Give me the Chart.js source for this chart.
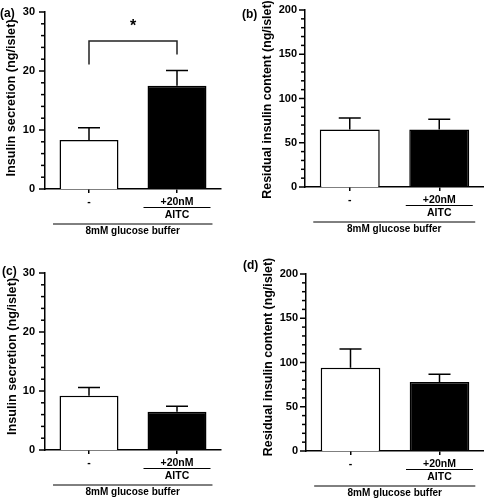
<!DOCTYPE html>
<html>
<head>
<meta charset="utf-8">
<script src="https://cdn.jsdelivr.net/npm/chart.js@4/dist/chart.umd.min.js"></script>
<style>
html,body{margin:0;padding:0;background:#fff;}
#wrap{position:relative;width:484px;height:500px;overflow:hidden;}
.pan{position:absolute;width:242px;height:250px;}
</style>
</head>
<body>
<div id="wrap">
  <div class="pan" style="left:0;top:0"><canvas id="ca" width="242" height="250"></canvas></div>
  <div class="pan" style="left:242px;top:0"><canvas id="cb" width="242" height="250"></canvas></div>
  <div class="pan" style="left:0;top:250px"><canvas id="cc" width="242" height="250"></canvas></div>
  <div class="pan" style="left:242px;top:250px"><canvas id="cd" width="242" height="250"></canvas></div>
</div>
<script>
// ---- data ----
const categories = ['-', '+20nM'];
const treatmentSub = ['', 'AITC'];
const groupLabel = '8mM glucose buffer';
const barColors = ['#ffffff', '#000000'];

const secretionA = [8.3, 17.5];
const secretionAErr = [10.4, 20.1];
const contentB = [65, 65];
const contentBErr = [78, 76.5];
const secretionC = [9.2, 6.5];
const secretionCErr = [10.6, 7.4];
const contentD = [94, 78];
const contentDErr = [115.3, 86.6];

const secretionTitle = 'Insulin secretion (ng/islet)';
const contentTitle = 'Residual insulin content (ng/islet)';
const secretionMax = 30, secretionMajor = 10, secretionMinor = 2;
const contentMax = 200, contentMajor = 50, contentMinor = 10;

// significance bracket for panel (a), in data units
const sigA = {from: 0, to: 1, top: 25.1, leftEnd: 21.1, rightEnd: 22.8, mark: '*', markAt: 28};

const FONT = '"Liberation Sans", Arial, Helvetica, sans-serif';

function makePanel(id, cfg) {
  const ctxEl = document.getElementById(id);
  const panelPlugin = {
    id: 'panelDecor',
    afterDatasetsDraw(chart) {
      const ctx = chart.ctx;
      const ys = chart.scales.y;
      const meta = chart.getDatasetMeta(0);
      ctx.save();
      ctx.strokeStyle = '#000';
      ctx.lineWidth = 1.5;
      cfg.err.forEach((e, i) => {
        const x = meta.data[i].x;
        const y0 = ys.getPixelForValue(cfg.values[i]);
        const y1 = ys.getPixelForValue(e);
        ctx.beginPath();
        ctx.moveTo(x, y0); ctx.lineTo(x, y1);
        ctx.moveTo(x - 11, y1); ctx.lineTo(x + 11, y1);
        ctx.stroke();
      });
      ctx.restore();
    },
    afterDraw(chart) {
      const ctx = chart.ctx;
      const ys = chart.scales.y, xs = chart.scales.x;
      const ca = chart.chartArea;
      const meta = chart.getDatasetMeta(0);
      ctx.save();
      ctx.strokeStyle = '#000';
      ctx.fillStyle = '#000';
      ctx.lineWidth = 1.5;
      // y ticks (major & minor)
      ys.ticks.forEach(t => {
        const y = ys.getPixelForValue(t.value);
        const major = Math.abs(t.value % cfg.major) < 1e-9;
        const len = major ? 6 : 4;
        ctx.beginPath();
        ctx.moveTo(ca.left - len, y); ctx.lineTo(ca.left, y);
        ctx.stroke();
      });
      // category labels
      const cb = ca.bottom;
      ctx.textAlign = 'center';
      ctx.textBaseline = 'middle';
      ctx.font = 'bold 10.5px ' + FONT;
      categories.forEach((c, i) => {
        const x = xs.getPixelForValue(i);
        ctx.fillText(c, x, cb + cfg.row1);
        if (treatmentSub[i]) {
          ctx.beginPath();
          ctx.moveTo(x - 33.5, cb + 18.5); ctx.lineTo(x + 33.5, cb + 18.5);
          ctx.lineWidth = 1;
          ctx.stroke();
          ctx.fillText(treatmentSub[i], x, cb + 26);
        }
      });
      // group line
      const b0 = meta.data[0], b1 = meta.data[1];
      const gx0 = b0.x - b0.width / 2 - 6.5, gx1 = b1.x + b1.width / 2 + 6;
      ctx.lineWidth = 1;
      ctx.beginPath();
      ctx.moveTo(gx0, cb + 35); ctx.lineTo(gx1, cb + 35);
      ctx.stroke();
      ctx.font = 'bold 10px ' + FONT;
      ctx.fillText(groupLabel, (gx0 + gx1) / 2, cb + 42.5);
      // y title
      ctx.save();
      ctx.translate(cfg.titleX, cfg.titleY);
      ctx.rotate(-Math.PI / 2);
      ctx.font = 'bold ' + cfg.titleSize + 'px ' + FONT;
      ctx.fillText(cfg.title, 0, 0);
      ctx.restore();
      // panel letter
      ctx.textAlign = 'left';
      ctx.font = 'bold 12px ' + FONT;
      ctx.fillText(cfg.letter, cfg.letterX, cfg.letterY);
      // significance bracket
      if (cfg.sig) {
        const s = cfg.sig;
        const xa = xs.getPixelForValue(s.from), xb = xs.getPixelForValue(s.to);
        const yt = ys.getPixelForValue(s.top);
        ctx.lineWidth = 1.5;
        ctx.strokeStyle = '#222';
        ctx.beginPath();
        ctx.moveTo(xa, ys.getPixelForValue(s.leftEnd));
        ctx.lineTo(xa, yt); ctx.lineTo(xb, yt);
        ctx.lineTo(xb, ys.getPixelForValue(s.rightEnd));
        ctx.stroke();
        ctx.textAlign = 'center';
        ctx.font = 'bold 16px ' + FONT;
        ctx.fillText(s.mark, (xa + xb) / 2, ys.getPixelForValue(s.markAt) + 3);
      }
      ctx.restore();
    }
  };

  return new Chart(ctxEl, {
    type: 'bar',
    data: {
      labels: categories,
      datasets: [{
        data: cfg.values,
        backgroundColor: barColors,
        borderColor: '#000',
        borderWidth: 1.5,
        borderSkipped: 'start',
        barPercentage: 0.67,
        categoryPercentage: 1.0
      }]
    },
    options: {
      responsive: false,
      animation: false,
      devicePixelRatio: 1,
      layout: {padding: {left: 0, top: cfg.pad.top, right: cfg.pad.right, bottom: cfg.pad.bottom}},
      plugins: {legend: {display: false}, tooltip: {enabled: false}},
      scales: {
        x: {
          offset: true,
          grid: {display: true, drawOnChartArea: false, drawTicks: true, tickLength: 4, offset: false, color: '#000', lineWidth: 1.5},
          border: {display: true, color: '#000', width: 1.5},
          ticks: {display: false},
          afterFit(s) { s.height = 0; }
        },
        y: {
          min: 0, max: cfg.max,
          grid: {display: false, drawTicks: true, tickLength: 6},
          border: {display: true, color: '#000', width: 1.5},
          ticks: {
            stepSize: cfg.minor,
            autoSkip: false,
            padding: cfg.tickPad - 6,
            color: '#000',
            font: {family: FONT, size: 11, weight: 'bold'},
            callback: (v) => (Math.abs(v % cfg.major) < 1e-9 ? String(v) : '')
          },
          afterFit(s) { s.width = cfg.axisX; }
        }
      }
    },
    plugins: [panelPlugin]
  });
}

makePanel('ca', {values: secretionA, err: secretionAErr, max: secretionMax, major: secretionMajor, minor: secretionMinor,
  pad: {top: 12, right: 21, bottom: 61}, axisX: 45, tickPad: 10, row1: 13,
  title: secretionTitle, titleSize: 12.7, titleX: 11, titleY: 98, letter: '(a)', letterX: 0, letterY: 13.5, sig: sigA});
makePanel('cb', {values: contentB, err: contentBErr, max: contentMax, major: contentMajor, minor: contentMinor,
  pad: {top: 10, right: 0, bottom: 63}, axisX: 63, tickPad: 8, row1: 13,
  title: contentTitle, titleSize: 12.4, titleX: 26, titleY: 99.5, letter: '(b)', letterX: 0, letterY: 15});
makePanel('cc', {values: secretionC, err: secretionCErr, max: secretionMax, major: secretionMajor, minor: secretionMinor,
  pad: {top: 23, right: 21, bottom: 50}, axisX: 45, tickPad: 10, row1: 13,
  title: secretionTitle, titleSize: 12.7, titleX: 12.5, titleY: 106.5, letter: '(c)', letterX: 2, letterY: 22});
makePanel('cd', {values: contentD, err: contentDErr, max: contentMax, major: contentMajor, minor: contentMinor,
  pad: {top: 24, right: 0, bottom: 49}, axisX: 64, tickPad: 8, row1: 13,
  title: contentTitle, titleSize: 12.4, titleX: 26.5, titleY: 107, letter: '(d)', letterX: 1, letterY: 16});
</script>
</body>
</html>
